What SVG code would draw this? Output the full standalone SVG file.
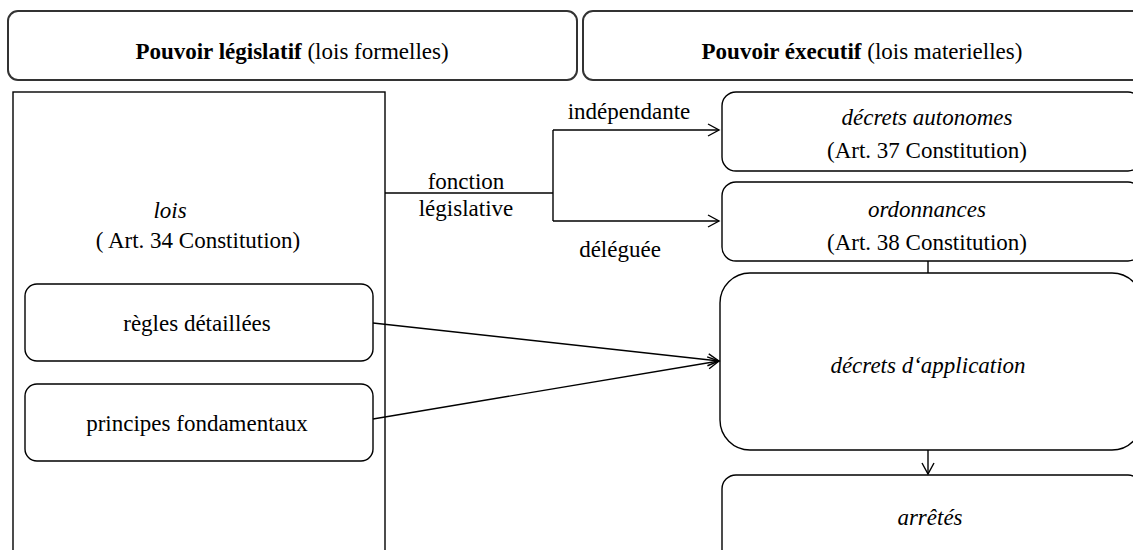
<svg xmlns="http://www.w3.org/2000/svg" width="1133" height="550" viewBox="0 0 1133 550" font-family="'Liberation Serif', 'Times New Roman', serif">
<defs>
<style>
.box{fill:#fff;stroke:#000;stroke-width:1.4}
.hdr{fill:#fff;stroke:#333;stroke-width:2}
.ln{fill:none;stroke:#000;stroke-width:1.4}
.t{font-family:'Liberation Serif','Times New Roman',serif;font-size:23px;fill:#000;text-anchor:middle}
.it{font-style:italic}
.b{font-weight:bold}
</style>
<marker id="arr" markerWidth="14" markerHeight="14" refX="12" refY="7" orient="auto" markerUnits="userSpaceOnUse">
<path d="M1,1 L12,7 L1,13" fill="none" stroke="#000" stroke-width="1.4"/>
</marker>
</defs>
<rect width="1133" height="550" fill="#fff"/>
<g id="hdr-legislatif">
<rect class="hdr" x="8" y="11" width="569" height="69" rx="10"/>
<text class="t" x="292" y="59"><tspan class="b">Pouvoir législatif</tspan>  (lois formelles)</text>
</g>
<g id="hdr-executif">
<rect class="hdr" x="583" y="11" width="560" height="69" rx="10"/>
<text class="t" x="862" y="59"><tspan class="b">Pouvoir éxecutif</tspan> (lois materielles)</text>
</g>
<g id="lois">
<rect class="box" x="13" y="92" width="372" height="470"/>
<text class="t it" x="170" y="218">lois</text>
<text class="t" x="198" y="248">( Art. 34 Constitution)</text>
</g>
<g id="regles">
<rect class="box" x="25" y="284" width="348" height="77" rx="12"/>
<text class="t" x="197" y="331">règles détaillées</text>
</g>
<g id="principes">
<rect class="box" x="25" y="384" width="348" height="77" rx="12"/>
<text class="t" x="197" y="431">principes fondamentaux</text>
</g>
<g id="decrets-autonomes">
<rect class="box" x="722" y="92" width="420" height="79" rx="14"/>
<text class="t it" x="927" y="125">décrets autonomes</text>
<text class="t" x="927" y="158">(Art. 37 Constitution)</text>
</g>
<g id="ordonnances">
<rect class="box" x="722" y="182" width="420" height="79" rx="14"/>
<text class="t it" x="927" y="217">ordonnances</text>
<text class="t" x="927" y="250">(Art. 38 Constitution)</text>
</g>
<g id="decrets-application">
<rect class="box" x="720" y="273" width="422" height="177" rx="30"/>
<text class="t it" x="928" y="373">décrets d‘application</text>
</g>
<g id="arretes">
<rect class="box" x="722" y="475" width="420" height="90" rx="14"/>
<text class="t it" x="930" y="525">arrêtés</text>
</g>
<g id="connectors">
<path class="ln" d="M385,193 H553" stroke-width="2.2"/>
<path class="ln" d="M553,130 V221"/>
<path class="ln" d="M553,130 H719" marker-end="url(#arr)"/>
<path class="ln" d="M553,221 H719" marker-end="url(#arr)"/>
<path class="ln" d="M928,261 V273"/>
<path class="ln" d="M928,450 V474" marker-end="url(#arr)"/>
<path class="ln" d="M373,323 L719,361" marker-end="url(#arr)"/>
<path class="ln" d="M373,419 L719,361" marker-end="url(#arr)"/>
<text class="t" x="466" y="189">fonction</text>
<text class="t" x="466" y="216">législative</text>
<text class="t" x="629" y="119">indépendante</text>
<text class="t" x="620" y="257">déléguée</text>
</g>
</svg>
